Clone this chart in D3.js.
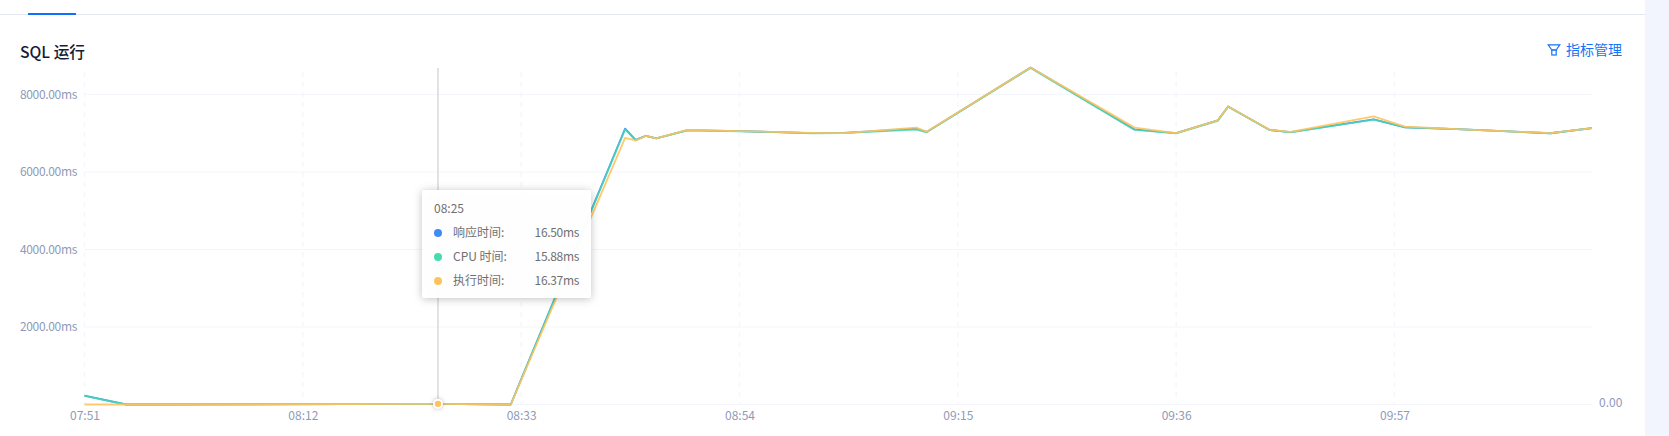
<!DOCTYPE html>
<html><head><meta charset="utf-8">
<script src="https://cdn.jsdelivr.net/npm/d3@7/dist/d3.min.js"></script>
<style>
html,body{margin:0;padding:0;background:#fff;overflow:hidden}
svg{display:block}
text{font-family:"Noto Sans CJK SC","Noto Sans",sans-serif}
</style></head><body>
<svg id="c" width="1669" height="436"></svg>
<script>
const times = ["07:51","07:55","08:25","08:32","08:43","08:44","08:45","08:46","08:49","08:54","09:01","09:04","09:11","09:12","09:22","09:32","09:36","09:40","09:41","09:45","09:47","09:55","09:58","10:03","10:12","10:16"];
const responseTime = [230,0,16.5,0,7120,6830,6935,6870,7080,7055,7005,7010,7120,7035,8695,7100,7005,7330,7690,7085,7030,7360,7150,7105,7000,7135];
const cpuTime = [225,0,15.88,0,7100,6815,6930,6865,7075,7050,7000,7005,7095,7025,8685,7085,6995,7320,7685,7085,7025,7350,7155,7105,7000,7130];
const execTime = [0,0,16.37,0,6880,6815,6930,6865,7085,7055,7010,7005,7145,7040,8695,7145,7005,7335,7690,7090,7035,7435,7170,7105,7005,7135];
const seriesNames = ["响应时间","CPU 时间","执行时间"];
const seriesColors = ["#3f8cf5","#47dcae","#ffc35c"];
const seriesOpacity = [1,0.8,0.9];
const yTicks = [2000,4000,6000,8000];
const xTickLabels = ["07:51","08:12","08:33","08:54","09:15","09:36","09:57"];
const hoverTime = "08:25";
const hoverValues = [16.50,15.88,16.37];

const parse = d3.utcParse("%H:%M");
const svg = d3.select("#c");
const x = d3.scaleUtc().domain([parse(times[0]),parse(times[times.length-1])]).range([84.5,1592]);
const y = d3.scaleLinear().domain([0,8000]).range([404.5,94.5]);
const TOP = 72;

// page chrome
svg.append("rect").attr("x",1645).attr("width",24).attr("height",436).attr("fill","#f2f5fd");
svg.append("line").attr("x1",0).attr("x2",1645).attr("y1",14.5).attr("y2",14.5).attr("stroke","#e2e7f2");
svg.append("rect").attr("x",28).attr("y",13).attr("width",48).attr("height",2).attr("fill","#0f6fff");
svg.append("text").attr("x",20).attr("y",58).attr("font-size",15.7).attr("font-weight",500).attr("fill","#141c38").text("SQL 运行");
const filt = svg.append("g").attr("fill","none").attr("stroke","#1673f5").attr("stroke-width",1.2);
filt.append("path").attr("d","M1548.2 44.8H1559.8L1556.2 50H1551.8Z");
filt.append("rect").attr("x",1551.8).attr("y",50).attr("width",4.4).attr("height",5);
svg.append("text").attr("x",1566).attr("y",55).attr("font-size",14).attr("fill","#1673f5").text("指标管理");

// grid
const gridColor = "#f5f6fb";
svg.append("g").selectAll("line").data(xTickLabels).join("line")
  .attr("x1",d=>x(parse(d))).attr("x2",d=>x(parse(d))).attr("y1",TOP).attr("y2",404)
  .attr("stroke",gridColor).attr("stroke-width",1.4).attr("stroke-dasharray","5 5");
svg.append("g").selectAll("line").data([0,...yTicks]).join("line")
  .attr("x1",84.5).attr("x2",1592).attr("y1",d=>y(d)).attr("y2",d=>y(d))
  .attr("stroke",gridColor).attr("stroke-width",1);

// axes
const tickColor = "#8f9ab8";
const gy = svg.append("g").attr("transform","translate(84,0)")
  .call(d3.axisLeft(y).tickValues(yTicks).tickSize(0).tickPadding(7).tickFormat(d=>d3.format(".2f")(d)+"ms"));
const gx = svg.append("g").attr("transform","translate(0,404)")
  .call(d3.axisBottom(x).tickValues(xTickLabels.map(parse)).tickSize(0).tickPadding(7).tickFormat(d3.utcFormat("%H:%M")));
[gx,gy].forEach(g=>{g.select(".domain").remove();
  g.selectAll("text").attr("fill",tickColor).attr("font-size",12).style("font-family",'"Noto Sans CJK SC",sans-serif');});
gy.selectAll("text").attr("dy","0.32em").style("letter-spacing","-0.33px");
svg.append("text").attr("x",1599).attr("y",407).attr("font-size",12).attr("fill",tickColor).text("0.00");

// crosshair
const hx = x(parse(hoverTime));
svg.append("line").attr("x1",hx).attr("x2",hx).attr("y1",68).attr("y2",404).attr("stroke","#d9d9d9").attr("stroke-width",1.5);

// lines
const line = d3.line().x((d,i)=>x(parse(times[i]))).y(d=>y(d));
[responseTime,cpuTime,execTime].forEach((s,i)=>{
  svg.append("path").datum(s).attr("fill","none").attr("stroke",seriesColors[i])
    .attr("stroke-width",1.8).attr("stroke-opacity",seriesOpacity[i]).attr("stroke-linejoin","round").attr("d",line);
});

// hover marker
svg.append("circle").attr("cx",hx).attr("cy",y(hoverValues[2])).attr("r",5).attr("fill","#fff")
  .style("filter","drop-shadow(0 0 2px rgba(0,0,0,.25))");
svg.append("circle").attr("cx",hx).attr("cy",y(hoverValues[2])).attr("r",3.2).attr("fill",seriesColors[2]);

// tooltip
const defs = svg.append("defs");
const f = defs.append("filter").attr("id","sh").attr("x","-20%").attr("y","-20%").attr("width","140%").attr("height","140%");
f.append("feDropShadow").attr("dx",0).attr("dy",1).attr("stdDeviation",4).attr("flood-color","#000").attr("flood-opacity",0.25);
const tip = svg.append("g").attr("transform","translate(422,190)");
tip.append("rect").attr("width",169).attr("height",108).attr("rx",3).attr("fill","#fff").attr("fill-opacity",0.97).attr("filter","url(#sh)");
const tc = "#707070";
tip.append("text").attr("x",12).attr("y",23).attr("font-size",12).attr("fill",tc).text(hoverTime);
seriesNames.forEach((n,i)=>{
  const yy = 43 + i*24;
  tip.append("circle").attr("cx",16).attr("cy",yy).attr("r",4).attr("fill",seriesColors[i]);
  tip.append("text").attr("x",31).attr("y",yy+4).attr("font-size",12).attr("fill",tc).text(n+":");
  tip.append("text").attr("x",157).attr("y",yy+4).attr("font-size",12).attr("fill",tc).attr("text-anchor","end").style("letter-spacing","-0.33px").text(hoverValues[i].toFixed(2)+"ms");
});
</script>
</body></html>
